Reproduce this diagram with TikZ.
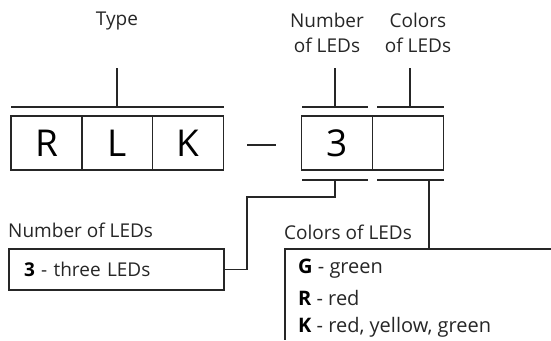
\documentclass[tikz,border=0pt]{standalone}
\usepackage{fontspec}
\setmainfont{Open Sans}
\begin{document}
\begin{tikzpicture}[x=1pt,y=-1pt,
  line/.style={draw=black!85, line width=1.2pt},
  cell/.style={line, minimum width=71pt, minimum height=54pt, inner sep=0pt, font=\fontsize{37}{40}\selectfont},
  lbl/.style={inner sep=0pt, font=\fontsize{19}{25}\selectfont, text=black!85, align=center},
  item/.style={inner sep=0pt, anchor=west, font=\fontsize{19}{22}\selectfont, text=black!85},
  litem/.style={item, font=\fontsize{20}{22}\selectfont}
]
\useasboundingbox (0,0) rectangle (551,340);
% top labels
\node[lbl] (type) at (117,21) {Type};
\node[lbl] (numl) at (327,33) {Number\\of LEDs};
\node[lbl] (coll) at (418,33) {Colors\\of LEDs};
% cells
\node[cell] (r) at (46.5,143) {R};
\node[cell] (l) at (117,143) {L};
\node[cell] (k) at (188,143) {K};
\node[cell] (n) at (337,143) {3};
\node[cell] (c) at (408,143) {};
\coordinate (d1) at (247,145); \coordinate (d2) at (276,145);
\draw[line] (d1) -- (d2);
% top brackets
\coordinate (tb1) at (11,107); \coordinate (tb2) at (224,107); \coordinate (tt) at (117,107); \coordinate (tt0) at (117,68);
\draw[line] (tb1) -- (tb2); \draw[line] (tt0) -- (tt);
\coordinate (nb1) at (302,107); \coordinate (nb2) at (368,107); \coordinate (nt) at (335,107); \coordinate (nt0) at (335,68);
\draw[line] (nb1) -- (nb2); \draw[line] (nt0) -- (nt);
\coordinate (cb1) at (377,107); \coordinate (cb2) at (444,107); \coordinate (ct) at (410,107); \coordinate (ct0) at (410,68);
\draw[line] (cb1) -- (cb2); \draw[line] (ct0) -- (ct);
% bottom brackets
\coordinate (nbb1) at (302,180); \coordinate (nbb2) at (368,180); \coordinate (nbt) at (335,180);
\draw[line] (nbb1) -- (nbb2);
\coordinate (cbb1) at (377,180); \coordinate (cbb2) at (444,180); \coordinate (cbt) at (429,180);
\draw[line] (cbb1) -- (cbb2);
% number legend
\node[item] (numt) at (8,230) {Number of LEDs};
\node[line, minimum width=215pt, minimum height=41pt, text width=185pt, inner xsep=15pt, inner ysep=0pt, align=left,
  font=\fontsize{19}{22}\selectfont, text=black!85] (numbox) at (116.5,269.5) {{\bfseries\color{black}3} - three LEDs};
\draw[line] (nbt) -- (335,197) -- (247,197) -- (247,269.5) -- (numbox.east);
% colors legend
\node[item] (colt) at (284,232) {Colors of LEDs};
\coordinate (cbox) at (285,249);
\draw[line] (551,249) -- (cbox) -- (285,340);
\draw[line] (cbt) -- (429,249);
\node[litem] (g) at (298,269) {{\bfseries\color{black}G} - green};
\node[litem] (rr) at (298,298) {{\bfseries\color{black}R} - red};
\node[litem] (kk) at (298,327) {{\bfseries\color{black}K} - red, yellow, green};
\end{tikzpicture}
\end{document}
